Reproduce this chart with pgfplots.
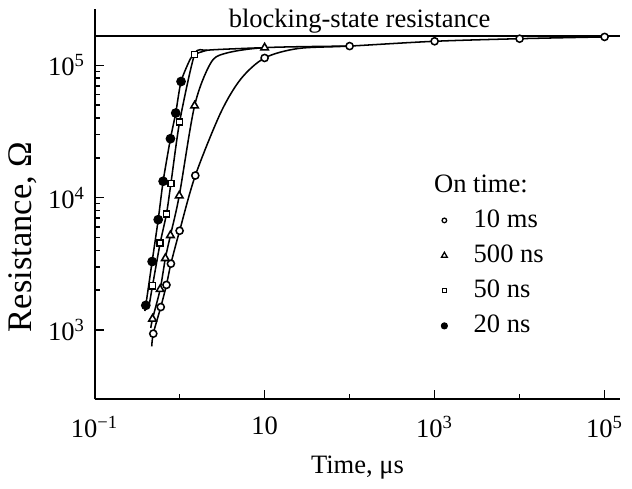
\documentclass[border=0pt]{standalone}
\usepackage{fontspec}
\setmainfont{Liberation Serif}
\usepackage{pgfplots}
\pgfplotsset{compat=1.18}
\begin{document}
\fontsize{10.4}{12.5}\selectfont
\begin{tikzpicture}
\begin{loglogaxis}[
  scale only axis, width=206pt, height=153pt,
  xmin=0.1, xmax=1.53e5, ymin=299, ymax=2.67e5,
  axis x line=bottom, axis y line=left,
  axis line style={-, line width=0.8pt},
  xtick={0.1,10,1000,100000},
  xticklabels={10\textsuperscript{−1},10,10\textsuperscript{3},10\textsuperscript{5}},
  minor xtick={1,100,10000},
  ytick={1000,10000,100000},
  yticklabels={10\textsuperscript{3},10\textsuperscript{4},10\textsuperscript{5}},
  minor ytick={},
  tick align=inside,
  major tick length=3.6pt, minor tick length=2.2pt,
  tick style={line width=0.6pt, black},
  xticklabel style={yshift=-3pt},
  xlabel={Time, μs}, ylabel={Resistance, Ω},
  ylabel style={at={(axis description cs:-0.136,0.416)}, anchor=center, font=\fontsize{13.5}{15}\selectfont},
  clip=false,
  legend cell align=left,
  legend style={draw=none, fill=none, at={(rel axis cs:0.636,0.60)}, anchor=north west,
    row sep=2.3pt, nodes={inner sep=1.5pt}},
]
\path[draw=none] (rel axis cs:-0.18,0.2) -- (rel axis cs:-0.18,0.6);
% blocking-state line
\addplot[black, line width=0.6pt, forget plot] coordinates {(0.1,166000) (1.53e5,166000)};
\node[anchor=base] at (rel axis cs:0.504,0.953) {blocking-state resistance};

% fitted lines
\addplot[black, line width=0.6pt, smooth, tension=0.5, forget plot] coordinates {
 (0.47,752) (0.49,938) (0.60,1490) (0.70,2190) (0.79,3170) (1.0,5620) (1.53,14700)
 (3.05,44000) (5.27,79100) (10,113700) (24.8,134000) (100,139800) (1000,152000)
 (10000,159000) (100000,164000)};
\addplot[black, line width=0.6pt, smooth, tension=0.5, forget plot] coordinates {
 (0.458,1035) (0.48,1213) (0.59,2030) (0.68,3480) (0.78,5190) (0.99,10350) (1.50,49500)
 (2.3,103000) (3.4,122800) (10,136000) (100,139800)};
\addplot[black, line width=0.6pt, smooth, tension=0.4, forget plot] coordinates {
 (0.44,1560) (0.48,2160) (0.59,4530) (0.70,7510) (0.79,12800) (1.0,37400) (1.5,120700)
 (2.1,130000) (5.3,134000) (10,136000)};
\addplot[black, line width=0.6pt, smooth, tension=0.4, forget plot] coordinates {
 (0.39,1390) (0.40,1535) (0.475,3290) (0.56,6820) (0.64,13300) (0.78,27900) (0.90,43600)
 (1.04,75500) (1.35,113000) (1.6,123000) (2.1,130000)};

\addlegendimage{empty legend}
\addlegendentry{\hspace*{-15.5pt}On time:}
% markers
\addplot[only marks, mark=*, mark size=1.4pt, mark options={fill=white, line width=0.6pt, draw=black},
  legend image code/.code={\draw[black, fill=white, line width=0.5pt] (0.1cm,0cm) circle (0.9pt);
    \path[draw=none, fill=none] (0.1cm,0cm) -- ++(10pt,0pt);}]
 coordinates {(0.49,938) (0.60,1490) (0.70,2190) (0.79,3170) (1.0,5620) (1.53,14700)
 (10,113700) (100,139800) (1000,152000) (10000,159000) (100000,164000)};
\addlegendentry{10 ms}
\addplot[only marks, mark=triangle*, mark size=1.7pt, mark options={fill=white, line width=0.6pt, draw=black},
  legend image code/.code={\draw[black, fill=white, line width=0.5pt] (0.1cm,0cm) ++(90:1.3pt) -- ++(-120:2.25pt) -- ++(0:2.25pt) -- cycle;
    \path[draw=none, fill=none] (0.1cm,0cm) -- ++(10pt,0pt);}]
 coordinates {(0.48,1213) (0.59,2030) (0.68,3480) (0.78,5190) (0.99,10350) (1.50,49500) (10,136000)};
\addlegendentry{500 ns}
\addplot[only marks, mark=square*, mark size=1.2pt, mark options={fill=white, line width=0.6pt, draw=black},
  legend image code/.code={\draw[black, fill=white, line width=0.5pt] (0.1cm,0cm) ++(-0.8pt,-0.8pt) rectangle ++(1.6pt,1.6pt);
    \path[draw=none, fill=none] (0.1cm,0cm) -- ++(10pt,0pt);}]
 coordinates {(0.48,2160) (0.59,4530) (0.70,7510) (0.79,12800) (1.0,37400) (1.5,120700)};
\addlegendentry{50 ns}
\addplot[only marks, mark=*, mark size=1.7pt, mark options={fill=black, draw=black},
  legend image code/.code={\fill[black] (0.1cm,0cm) circle (1.2pt);
    \path[draw=none, fill=none] (0.1cm,0cm) -- ++(10pt,0pt);}]
 coordinates {(0.40,1535) (0.475,3290) (0.56,6820) (0.64,13300) (0.78,27900) (0.90,43600) (1.04,75500)};
\addlegendentry{20 ns}
\end{loglogaxis}
\end{tikzpicture}
\end{document}
